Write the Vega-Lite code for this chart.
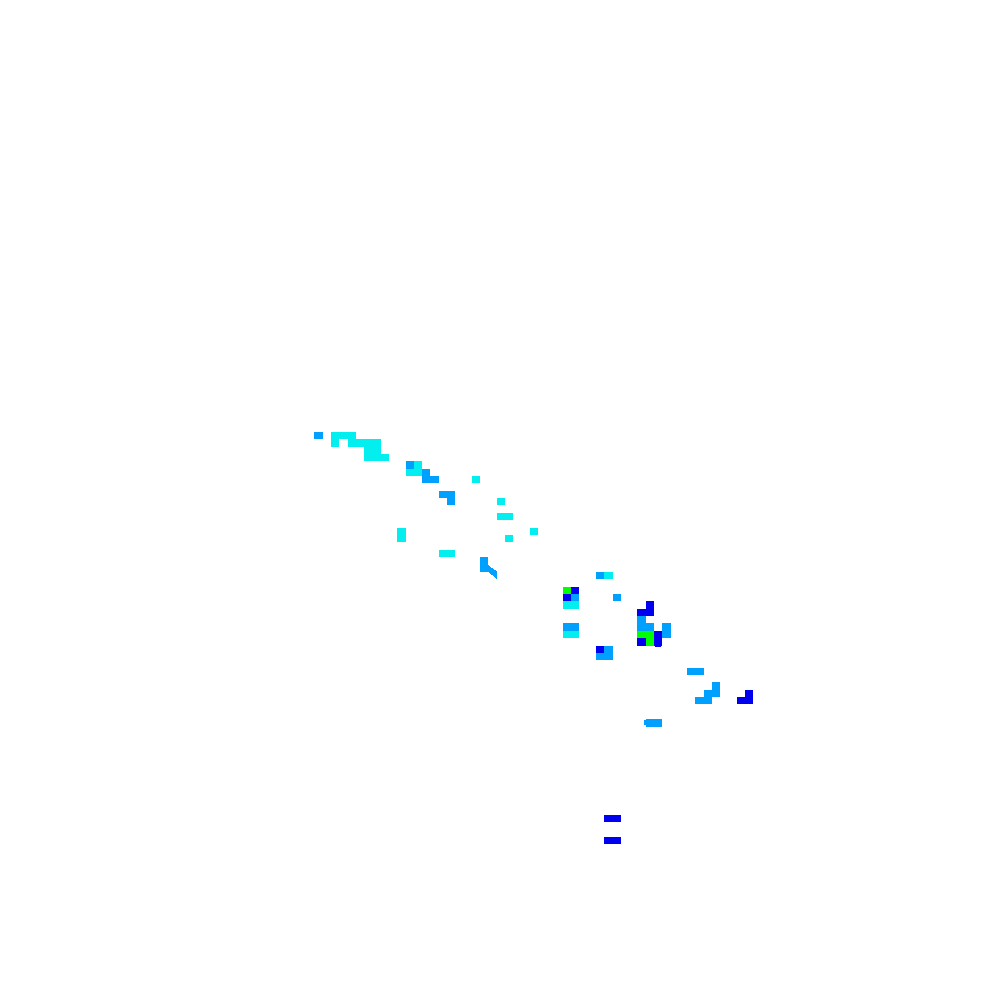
{
  "$schema": "https://vega.github.io/schema/vega-lite/v6.json",
  "width": 1000,
  "height": 1000,
  "padding": 0,
  "autosize": {"type": "fit", "contains": "padding"},
  "background": "white",
  "view": {"stroke": null},
  "data": {"values": [
    {"col":0,"col2":1,"row":0,"row2":1,"level":"b"},
    {"col":2,"col2":3,"row":0,"row2":1,"level":"c"},
    {"col":3,"col2":4,"row":0,"row2":1,"level":"c"},
    {"col":4,"col2":5,"row":0,"row2":1,"level":"c"},
    {"col":2,"col2":3,"row":1,"row2":2,"level":"c"},
    {"col":4,"col2":5,"row":1,"row2":2,"level":"c"},
    {"col":5,"col2":6,"row":1,"row2":2,"level":"c"},
    {"col":6,"col2":7,"row":1,"row2":2,"level":"c"},
    {"col":7,"col2":8,"row":1,"row2":2,"level":"c"},
    {"col":6,"col2":7,"row":2,"row2":3,"level":"c"},
    {"col":7,"col2":8,"row":2,"row2":3,"level":"c"},
    {"col":6,"col2":7,"row":3,"row2":4,"level":"c"},
    {"col":7,"col2":8,"row":3,"row2":4,"level":"c"},
    {"col":8,"col2":9,"row":3,"row2":4,"level":"c"},
    {"col":11,"col2":12,"row":4,"row2":5,"level":"b"},
    {"col":12,"col2":13,"row":4,"row2":5,"level":"c"},
    {"col":11,"col2":12,"row":5,"row2":6,"level":"c"},
    {"col":12,"col2":13,"row":5,"row2":6,"level":"c"},
    {"col":13,"col2":14,"row":5,"row2":6,"level":"b"},
    {"col":13,"col2":14,"row":6,"row2":7,"level":"b"},
    {"col":14,"col2":15,"row":6,"row2":7,"level":"b"},
    {"col":19,"col2":20,"row":6,"row2":7,"level":"c"},
    {"col":15,"col2":16,"row":8,"row2":9,"level":"b"},
    {"col":16,"col2":17,"row":8,"row2":9,"level":"b"},
    {"col":16,"col2":17,"row":9,"row2":10,"level":"b"},
    {"col":22,"col2":23,"row":9,"row2":10,"level":"c"},
    {"col":22,"col2":23,"row":11,"row2":12,"level":"c"},
    {"col":23,"col2":24,"row":11,"row2":12,"level":"c"},
    {"col":10,"col2":11,"row":13,"row2":14,"level":"c"},
    {"col":10,"col2":11,"row":14,"row2":15,"level":"c"},
    {"col":26,"col2":27,"row":13,"row2":14,"level":"c"},
    {"col":23,"col2":24,"row":14,"row2":15,"level":"c"},
    {"col":15,"col2":16,"row":16,"row2":17,"level":"c"},
    {"col":16,"col2":17,"row":16,"row2":17,"level":"c"},
    {"col":20,"col2":21,"row":17,"row2":18,"level":"b"},
    {"col":20,"col2":21,"row":18,"row2":19,"level":"b"},
    {"col":21,"col2":21.125,"row":18.06,"row2":19.06,"level":"b"},
    {"col":21.125,"col2":21.25,"row":18.19,"row2":19.19,"level":"b"},
    {"col":21.25,"col2":21.375,"row":18.31,"row2":19.31,"level":"b"},
    {"col":21.375,"col2":21.5,"row":18.44,"row2":19.44,"level":"b"},
    {"col":21.5,"col2":21.625,"row":18.56,"row2":19.56,"level":"b"},
    {"col":21.625,"col2":21.75,"row":18.69,"row2":19.69,"level":"b"},
    {"col":21.75,"col2":21.875,"row":18.81,"row2":19.81,"level":"b"},
    {"col":21.875,"col2":22,"row":18.94,"row2":19.94,"level":"b"},
    {"col":34,"col2":35,"row":19,"row2":20,"level":"b"},
    {"col":35,"col2":36,"row":19,"row2":20,"level":"c"},
    {"col":30,"col2":31,"row":21,"row2":22,"level":"g"},
    {"col":31,"col2":32,"row":21,"row2":22,"level":"d"},
    {"col":30,"col2":31,"row":22,"row2":23,"level":"d"},
    {"col":31,"col2":32,"row":22,"row2":23,"level":"b"},
    {"col":30,"col2":31,"row":23,"row2":24,"level":"c"},
    {"col":31,"col2":32,"row":23,"row2":24,"level":"c"},
    {"col":36,"col2":37,"row":22,"row2":23,"level":"b"},
    {"col":40,"col2":41,"row":23,"row2":24,"level":"d"},
    {"col":39,"col2":40,"row":24,"row2":25,"level":"d"},
    {"col":40,"col2":41,"row":24,"row2":25,"level":"d"},
    {"col":39,"col2":40,"row":25,"row2":26,"level":"b"},
    {"col":39,"col2":40,"row":26,"row2":27,"level":"b"},
    {"col":40,"col2":41,"row":26,"row2":27,"level":"b"},
    {"col":42,"col2":43,"row":26,"row2":27,"level":"b"},
    {"col":42,"col2":43,"row":27,"row2":28,"level":"b"},
    {"col":41,"col2":42,"row":27,"row2":28,"level":"d"},
    {"col":41,"col2":42,"row":28,"row2":29,"level":"d"},
    {"col":41.1,"col2":41.9,"row":29,"row2":29.15,"level":"d"},
    {"col":39,"col2":40,"row":27,"row2":28,"level":"g"},
    {"col":40,"col2":41,"row":27,"row2":28,"level":"g"},
    {"col":39,"col2":40,"row":28,"row2":29,"level":"d"},
    {"col":40,"col2":41,"row":28,"row2":29,"level":"g"},
    {"col":30,"col2":31,"row":26,"row2":27,"level":"b"},
    {"col":31,"col2":32,"row":26,"row2":27,"level":"b"},
    {"col":30,"col2":31,"row":27,"row2":28,"level":"c"},
    {"col":31,"col2":32,"row":27,"row2":28,"level":"c"},
    {"col":34,"col2":35,"row":29,"row2":30,"level":"d"},
    {"col":35,"col2":36,"row":29,"row2":30,"level":"b"},
    {"col":34,"col2":35,"row":30,"row2":31,"level":"b"},
    {"col":35,"col2":36,"row":30,"row2":31,"level":"b"},
    {"col":45,"col2":46,"row":32,"row2":33,"level":"b"},
    {"col":46,"col2":47,"row":32,"row2":33,"level":"b"},
    {"col":48,"col2":49,"row":34,"row2":35,"level":"b"},
    {"col":47,"col2":48,"row":35,"row2":36,"level":"b"},
    {"col":48,"col2":49,"row":35,"row2":36,"level":"b"},
    {"col":46,"col2":47,"row":36,"row2":37,"level":"b"},
    {"col":47,"col2":48,"row":36,"row2":37,"level":"b"},
    {"col":52,"col2":53,"row":35,"row2":36,"level":"d"},
    {"col":51,"col2":52,"row":36,"row2":37,"level":"d"},
    {"col":52,"col2":53,"row":36,"row2":37,"level":"d"},
    {"col":39.85,"col2":40,"row":39.1,"row2":39.85,"level":"b"},
    {"col":40,"col2":41,"row":39,"row2":40,"level":"b"},
    {"col":41,"col2":42,"row":39,"row2":40,"level":"b"},
    {"col":35,"col2":36,"row":52,"row2":53,"level":"d"},
    {"col":36,"col2":37,"row":52,"row2":53,"level":"d"},
    {"col":35,"col2":36,"row":55,"row2":56,"level":"d"},
    {"col":36,"col2":37,"row":55,"row2":56,"level":"d"}
  ]},
  "mark": {"type": "rect", "strokeWidth": 0},
  "encoding": {
    "x": {"field": "col", "type": "quantitative", "axis": null,
      "scale": {"domain": [-37.98, 82.79], "nice": false, "zero": false, "round": true}},
    "x2": {"field": "col2"},
    "y": {"field": "row", "type": "quantitative", "axis": null,
      "scale": {"domain": [-58.59, 77.1], "reverse": true, "nice": false, "zero": false, "round": true}},
    "y2": {"field": "row2"},
    "color": {"field": "level", "type": "nominal", "legend": null,
      "scale": {"domain": ["d", "b", "c", "g"], "range": ["#0000f0", "#00a0ff", "#03eeee", "#00ff00"]}}
  }
}
